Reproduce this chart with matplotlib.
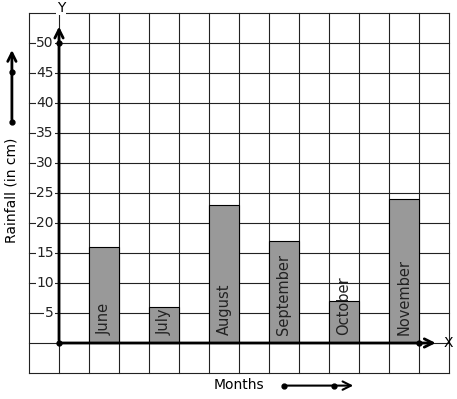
import matplotlib
matplotlib.use("Agg")
import matplotlib.pyplot as plt

months = ["June", "July", "August", "September", "October", "November"]
rainfall = [16, 6, 23, 17, 7, 24]
yticks = [5, 10, 15, 20, 25, 30, 35, 40, 45, 50]

fig = plt.figure(figsize=(4.57, 3.99), dpi=100)
ax = fig.add_axes([29 / 457, 26 / 399, 420 / 457, 360 / 399])
ax.set_xlim(-1, 13)
ax.set_ylim(-5, 55)
ax.axis("off")

# grid
for gx in range(-1, 14):
    ax.plot([gx, gx], [-5, 55], color="#222222", lw=0.8, zorder=1, clip_on=False)
for gy in range(-5, 56, 5):
    ax.plot([-1, 13], [gy, gy], color="#222222", lw=0.8, zorder=1, clip_on=False)

# bars
xs = [1.5 + 2 * i for i in range(len(months))]
ax.bar(xs, rainfall, width=1, color="#999999", edgecolor="black", lw=0.8, zorder=2)
for x, m in zip(xs, months):
    ax.text(x, 1.3, m, rotation=90, ha="center", va="bottom", fontsize=10.5,
            color="#222222", zorder=4)

# y tick labels
for t in yticks:
    ax.text(-0.17, t, str(t), ha="right", va="center", fontsize=10, color="#222222",
            zorder=3, bbox=dict(facecolor="white", edgecolor="none", pad=0.5))

# axes arrows
arr = dict(arrowstyle="->", lw=2, color="black", mutation_scale=15)
ax.annotate("", xy=(0, 53.2), xytext=(0, 0), arrowprops=arr, zorder=5,
            annotation_clip=False)
ax.annotate("", xy=(12.65, 0), xytext=(0, 0), arrowprops=arr, zorder=5,
            annotation_clip=False)
ax.plot([0, 0, 12], [0, 50, 0], "o", color="black", ms=3.5, zorder=6, clip_on=False)
ax.text(12.82, 0, "X", ha="left", va="center", fontsize=10)
ax.text(0.07, 55.9, "Y", ha="center", va="center", fontsize=10,
        bbox=dict(facecolor="white", edgecolor="none", pad=0.5))

# axis titles with arrows
ax.text(-1.57, 25.5, "Rainfall (in cm)", rotation=90, ha="center", va="center", fontsize=10)
ax.annotate("", xy=(-1.57, 49.3), xytext=(-1.57, 36.8), arrowprops=arr,
            annotation_clip=False)
ax.plot([-1.57, -1.57], [36.8, 45.2], "o", color="black", ms=3.5, clip_on=False)

ax.text(6.0, -7.0, "Months", ha="center", va="center", fontsize=10)
ax.annotate("", xy=(9.9, -7.1), xytext=(7.5, -7.1), arrowprops=dict(arr, lw=1.5),
            annotation_clip=False)
ax.plot([7.5, 9.17], [-7.1, -7.1], "o", color="black", ms=3.5, clip_on=False)

fig.savefig("out.png", dpi=100)
